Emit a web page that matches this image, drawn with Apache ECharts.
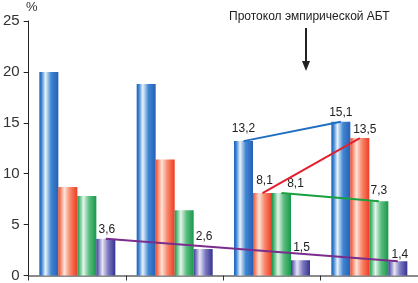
<!DOCTYPE html>
<html><head><meta charset="utf-8">
<script src="https://cdn.jsdelivr.net/npm/echarts@6/dist/echarts.min.js"></script>
<style>html,body{margin:0;padding:0;background:#fff}#c{width:418px;height:283px}</style>
</head><body><div id="c"></div>
<script>
var categories = ['1', '2', '3', '4'];
var blueValues = [20.0, 18.8, 13.2, 15.1];
var redValues = [8.7, 11.4, 8.1, 13.5];
var greenValues = [7.8, 6.4, 8.1, 7.3];
var purpleValues = [3.6, 2.6, 1.5, 1.4];
var yTicks = [0, 5, 10, 15, 20, 25];
var annotationText = 'Протокол эмпирической АБТ';
var unitText = '%';
// which points carry a value label
var blueLabeled = [2, 3];
var redLabeled = [2, 3];
var greenLabeled = [2, 3];
var purpleLabeled = [0, 1, 2, 3];

var FONT = '"Liberation Sans Narrow", "Arial Narrow", "Liberation Sans", sans-serif';

function grad(c0, c1, c2, c3) {
  return { type: 'linear', x: 0, y: 0, x2: 1, y2: 0, colorStops: [
    { offset: 0, color: c0 }, { offset: 0.12, color: c1 }, { offset: 0.32, color: c2 },
    { offset: 0.62, color: c1 }, { offset: 1, color: c3 }] };
}
function fmt(v) { return String(v.toFixed(1)).replace('.', ','); }

// per-point label nudges (style only)
var nudges = {
  blue: { 2: [0, -2], 3: [0, 1] },
  red: { 2: [2, -2], 3: [5, 2] },
  green: { 2: [14, 1], 3: [0, 0] },
  purple: { 0: [1, 1], 1: [1, -2], 2: [1, -3], 3: [2, 3] }
};

function buildData(values, labeled, key) {
  return values.map(function (v, i) {
    var item = { value: v };
    if (labeled.indexOf(i) >= 0) {
      var n = nudges[key][i] || [0, 0];
      item.label = { show: true, position: 'top', distance: 4, offset: n,
        formatter: function (p) { return fmt(p.value); },
        fontFamily: FONT, fontSize: 12, color: '#222' };
    }
    return item;
  });
}

function trend(values, i0, i1, color) {
  return {
    silent: true, symbol: ['none', 'none'], animation: false,
    label: { show: false },
    lineStyle: { color: color, width: 2, type: 'solid' },
    data: [[{ coord: [i0, values[i0]] }, { coord: [i1, values[i1]] }]]
  };
}

var chart = echarts.init(document.getElementById('c'), null, { renderer: 'canvas' });
chart.setOption({
  animation: false,
  grid: { left: 25, right: 0, top: 21, bottom: 7, containLabel: false },
  xAxis: {
    type: 'category', data: categories,
    axisLine: { lineStyle: { color: '#8a8a8a', width: 2 } },
    axisTick: { show: true, length: 5, lineStyle: { color: '#333', width: 1 } },
    axisLabel: { show: false }, splitLine: { show: false }
  },
  yAxis: {
    type: 'value', min: yTicks[0], max: yTicks[yTicks.length - 1], interval: 5,
    axisLine: { show: true, lineStyle: { color: '#222', width: 1 } },
    axisTick: { show: true, length: 5, lineStyle: { color: '#222' } },
    axisLabel: { fontFamily: FONT, fontSize: 15, color: '#333', margin: 9 },
    splitLine: { show: false }
  },
  series: [
    { type: 'bar', barWidth: 19, barGap: '0%', data: buildData(blueValues, blueLabeled, 'blue'),
      itemStyle: { color: grad('#1b5fb5', '#3f86d2', '#eaf2fb', '#2660b5') },
      markLine: trend(blueValues, 2, 3, '#1f6fc0') },
    { type: 'bar', barWidth: 19, barGap: '0%', data: buildData(redValues, redLabeled, 'red'),
      itemStyle: { color: grad('#ee4a2a', '#f7866a', '#ffe3d8', '#ee3b22') },
      markLine: trend(redValues, 2, 3, '#e3202e') },
    { type: 'bar', barWidth: 19, barGap: '0%', data: buildData(greenValues, greenLabeled, 'green'),
      itemStyle: { color: grad('#17964c', '#5bbd80', '#e3f5ea', '#18984a') },
      markLine: trend(greenValues, 2, 3, '#1ba040') },
    { type: 'bar', barWidth: 19, barGap: '0%', data: buildData(purpleValues, purpleLabeled, 'purple'),
      itemStyle: { color: grad('#3b3a95', '#7b79c0', '#e6e6f5', '#35338e') },
      markLine: trend(purpleValues, 0, 3, '#7a2d8c') }
  ],
  graphic: [
    { type: 'text', left: 26, top: 1, style: { text: unitText, fontFamily: FONT, fontSize: 13, fill: '#333' } },
    { type: 'text', left: 229, top: 11, style: { text: annotationText, fontFamily: FONT, fontSize: 12, fill: '#222' } },
    { type: 'line', shape: { x1: 306, y1: 28, x2: 306, y2: 63 }, style: { stroke: '#222', lineWidth: 2 } },
    { type: 'polygon', shape: { points: [[302, 61], [310, 61], [306, 71]] }, style: { fill: '#222' } }
  ]
});
</script></body></html>
